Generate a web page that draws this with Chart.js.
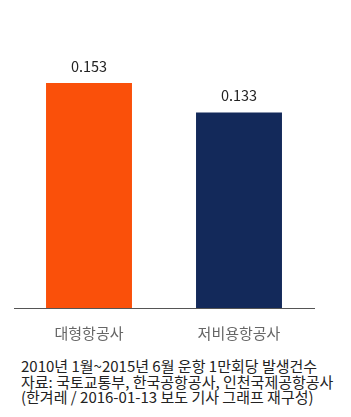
<!DOCTYPE html>
<html>
<head>
<meta charset="utf-8">
<script src="https://cdn.jsdelivr.net/npm/chart.js@4"></script>
<style>
  html, body { margin: 0; padding: 0; background: #fff; }
  #wrap { position: relative; width: 351px; height: 417px; }
  #chart { position: absolute; left: 0; top: 0; }
  #note {
    position: absolute; left: 21px; top: 358px;
    font-family: "Noto Sans CJK KR", "Noto Sans", sans-serif;
    font-size: 15px; line-height: 15.5px; color: #222;
    white-space: nowrap;
  }
</style>
</head>
<body>
<div id="wrap">
  <canvas id="chart" width="351" height="345"></canvas>
  <div id="note">
    2010년 1월~2015년 6월 운항 1만회당 발생건수<br>
    자료: 국토교통부, 한국공항공사, 인천국제공항공사<br>
    (한겨레 / 2016-01-13 보도 기사 그래프 재구성)
  </div>
</div>
<script>
// --- data ---
const categories = ['대형항공사', '저비용항공사'];
const values = [0.153, 0.133];
const barColors = ['#FA500A', '#13295A'];

const fontFamily = '"Noto Sans CJK KR", "Noto Sans", sans-serif';

// value labels above bars
const valueLabels = {
    id: 'valueLabels',
    afterDatasetsDraw(chart) {
        const ctx = chart.ctx;
        const meta = chart.getDatasetMeta(0);
        ctx.save();
        ctx.font = '14.5px ' + fontFamily;
        ctx.fillStyle = '#222';
        ctx.textAlign = 'center';
        ctx.textBaseline = 'middle';
        meta.data.forEach((bar, i) => {
            ctx.fillText(values[i].toFixed(3), bar.x, bar.y - 17);
        });
        ctx.restore();
    }
};

const ctx = document.getElementById('chart').getContext('2d');
const chart = new Chart(ctx, {
    type: 'bar',
    data: {
        labels: categories,
        datasets: [{
            data: values,
            backgroundColor: barColors,
            borderWidth: 0,
            barPercentage: 0.573,
            categoryPercentage: 1
        }]
    },
    options: {
        responsive: false,
        animation: false,
        layout: { padding: { left: 14, right: 37, top: 14, bottom: 0 } },
        plugins: {
            legend: { display: false },
            tooltip: { enabled: false }
        },
        scales: {
            x: {
                grid: { drawOnChartArea: false, drawTicks: false },
                border: { display: true, color: '#555', width: 1 },
                ticks: {
                    padding: 16,
                    color: '#666',
                    font: { family: fontFamily, size: 15 }
                },
                afterFit(scale) { scale.height = 37; }
            },
            y: {
                display: false,
                min: 0,
                max: 0.2
            }
        }
    },
    plugins: [valueLabels]
});
</script>
</body>
</html>
